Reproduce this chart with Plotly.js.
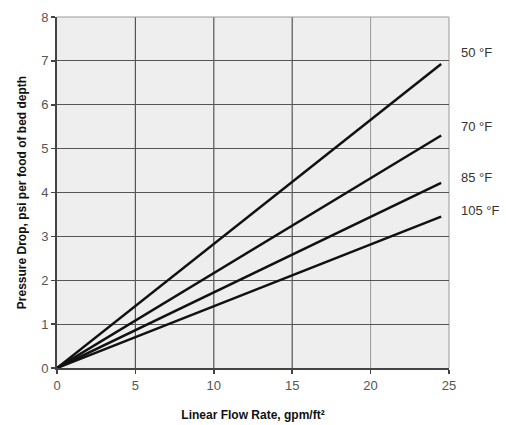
<!DOCTYPE html>
<html><head><meta charset="utf-8">
<script src="https://cdn.plot.ly/plotly-3.0.1.min.js"></script>
<style>html,body{margin:0;padding:0;background:#fff}#c{width:506px;height:425px}</style>
</head><body><div id="c"></div>
<script>
const seriesNames = ["50 °F", "70 °F", "85 °F", "105 °F"];
const flowRate = [0, 24.5];
const drop50 = [0, 6.93];
const drop70 = [0, 5.30];
const drop85 = [0, 4.22];
const drop105 = [0, 3.45];
const xTicks = [0, 5, 10, 15, 20, 25];
const yTicks = [0, 1, 2, 3, 4, 5, 6, 7, 8];

const FONT = '"Liberation Sans Narrow", "Arial Narrow", "Liberation Sans", Arial, sans-serif';
const allY = [drop50, drop70, drop85, drop105];
const traces = allY.map((y, i) => ({
  x: flowRate, y: y, type: 'scatter', mode: 'lines', name: seriesNames[i],
  line: {color: '#111', width: 2.5}, hoverinfo: 'skip', showlegend: false
}));
const shapes = [];
[5, 10, 15].forEach(v => shapes.push({type: 'line', xref: 'x', yref: 'paper', x0: v, x1: v, y0: 0, y1: 1, line: {color: '#555', width: 1.2}, layer: 'below'}));
shapes.push({type: 'line', xref: 'x', yref: 'paper', x0: 20, x1: 20, y0: 0, y1: 1, line: {color: '#999', width: 1}, layer: 'below'});
shapes.push({type: 'line', xref: 'paper', yref: 'paper', x0: 0, x1: 1, y0: 1, y1: 1, line: {color: '#999', width: 1}, layer: 'below'});
shapes.push({type: 'line', xref: 'paper', yref: 'paper', x0: 1, x1: 1, y0: 0, y1: 1, line: {color: '#999', width: 1}, layer: 'below'});

const labelY = [7.2, 5.5, 4.35, 3.6];
const annotations = seriesNames.map((n, i) => ({
  text: n, xref: 'paper', yref: 'y', x: 1.025, y: labelY[i], xanchor: 'left', yanchor: 'middle',
  showarrow: false, font: {family: FONT, size: 13, color: '#333'}
}));

const layout = {
  width: 506, height: 425,
  margin: {l: 57, r: 57, t: 17, b: 57},
  paper_bgcolor: '#fff', plot_bgcolor: '#eeeeee',
  font: {family: FONT},
  xaxis: {
    range: [0, 25], tickvals: xTicks, ticktext: xTicks.map(String),
    showgrid: false, zeroline: false,
    showline: true, linecolor: '#444', linewidth: 2,
    ticks: 'outside', ticklen: 4, tickcolor: '#444', tickwidth: 1.5,
    tickfont: {family: FONT, size: 13, color: '#555'},
    title: {text: '<b>Linear Flow Rate, gpm/ft²</b>', font: {family: FONT, size: 12, color: '#111'}, standoff: 19}
  },
  yaxis: {
    range: [0, 8], tickvals: yTicks, ticktext: yTicks.map(String),
    showgrid: true, gridcolor: '#555', gridwidth: 1.2, zeroline: false,
    showline: true, linecolor: '#444', linewidth: 2,
    ticks: 'outside', ticklen: 4, tickcolor: '#444', tickwidth: 1.5,
    tickfont: {family: FONT, size: 13, color: '#555'},
    title: {text: '<b>Pressure Drop, psi per food of bed depth</b>', font: {family: FONT, size: 12, color: '#111'}, standoff: 12}
  },
  shapes: shapes,
  annotations: annotations
};
Plotly.newPlot('c', traces, layout, {displayModeBar: false, staticPlot: true});
</script></body></html>
